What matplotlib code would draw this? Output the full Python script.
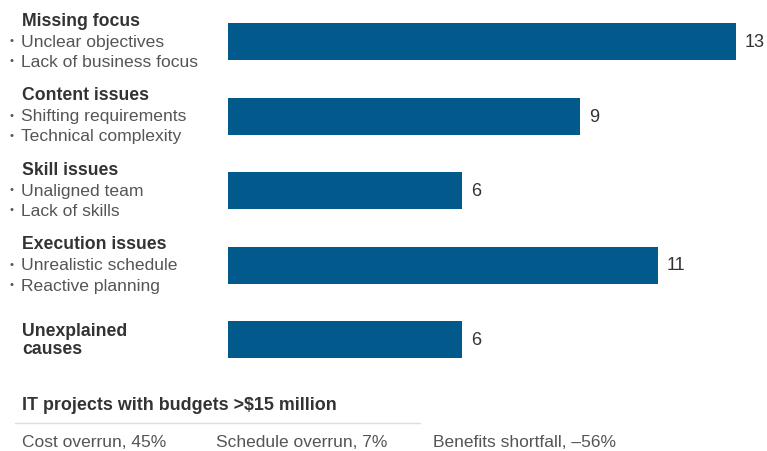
import matplotlib
matplotlib.use("Agg")
import matplotlib.pyplot as plt
import matplotlib.transforms as mtransforms

# ---- data ----
group_titles = ["Missing focus", "Content issues", "Skill issues", "Execution issues", "Unexplained\ncauses"]
group_bullets = [
    ["Unclear objectives", "Lack of business focus"],
    ["Shifting requirements", "Technical complexity"],
    ["Unaligned team", "Lack of skills"],
    ["Unrealistic schedule", "Reactive planning"],
    [],
]
values = [13, 9, 6, 11, 6]
footer_title = "IT projects with budgets >$15 million"
metric_names = ["Cost overrun", "Schedule overrun", "Benefits shortfall"]
metric_values = ["45%", "7%", "–56%"]

# ---- figure ----
W, H = 767, 452
dpi = 100
fig = plt.figure(figsize=(W / dpi, H / dpi), dpi=dpi)
fig.patch.set_facecolor("white")
FONT = ["Liberation Sans", "DejaVu Sans"]

# axes spans from x=228px to right edge, y=0..380px
ax_top, ax_bot = 0, 380
ax = fig.add_axes([228 / W, 1 - ax_bot / H, 1 - 228 / W, (ax_bot - ax_top) / H])
ax.axis("off")
px_per_unit = 39.08
ax.set_xlim(0, (W - 228) / px_per_unit)
step = 74.5
first_center = 42.5
ax.set_ylim((ax_bot - first_center) / step, -first_center / step)

bar_color = "#02598C"
ypos = list(range(len(values)))
ax.barh(ypos, values, height=37 / step, color=bar_color, edgecolor="none")
for y, v in zip(ypos, values):
    ax.annotate(str(v), (v, y), xytext=(9, 0), textcoords="offset pixels",
                va="center", ha="left", fontsize=13, color="#333333", family=FONT)

# left labels
tr = mtransforms.blended_transform_factory(fig.transFigure, ax.transData)
lh = 20 / step
for i, (t, bl) in enumerate(zip(group_titles, group_bullets)):
    if bl:
        ax.text(22 / W, i - 21 / step, t, transform=tr, va="center", ha="left",
                fontsize=12.7, fontweight="bold", color="#333333", family=FONT)
        for k, b in enumerate(bl):
            yy = i + k * lh
            ax.text(9 / W, yy - 1 / step, "•", transform=tr, va="center", ha="left",
                    fontsize=8, color="#555555", family=FONT)
            ax.text(21 / W, yy, b, transform=tr, va="center", ha="left",
                    fontsize=12.6, color="#555555", family=FONT)
    else:
        ax.text(22 / W, i, t, transform=tr, va="center", ha="left",
                fontsize=12.7, fontweight="bold", color="#333333", family=FONT,
                linespacing=1.15)

# footer
fig.text(22 / W, 1 - 406 / H, footer_title, va="center", ha="left",
         fontsize=12.9, fontweight="bold", color="#333333", family=FONT)
fig.add_artist(plt.Line2D([15 / W, 420 / W], [1 - 424 / H, 1 - 424 / H],
                          color="#dddddd", lw=1, transform=fig.transFigure))
xs = [22, 216, 433]
for x, n, v in zip(xs, metric_names, metric_values):
    fig.text(x / W, 1 - 443 / H, f"{n}, {v}", va="center", ha="left",
             fontsize=12.5, color="#555555", family=FONT)

fig.savefig("out.png", dpi=dpi, facecolor="white")
